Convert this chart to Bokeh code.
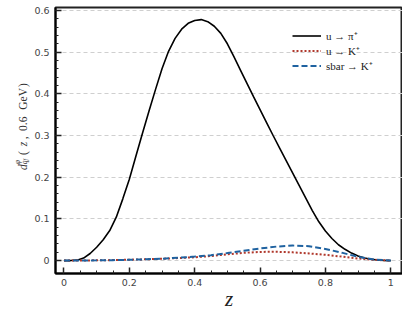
import math
from bokeh.plotting import figure
from bokeh.layouts import row
from bokeh.models import (FixedTicker, Range1d, Legend, LegendItem, Label)
from bokeh.embed import file_html
from bokeh.resources import INLINE

# ---- data ----
z_pi = [0.00, 0.02, 0.04, 0.06, 0.08, 0.10, 0.12, 0.14, 0.16, 0.18,
        0.20, 0.22, 0.24, 0.26, 0.28, 0.30, 0.32, 0.34, 0.36, 0.38,
        0.40, 0.42, 0.44, 0.46, 0.48, 0.50, 0.52, 0.54, 0.56, 0.58,
        0.60, 0.62, 0.64, 0.66, 0.68, 0.70, 0.72, 0.74, 0.76, 0.78,
        0.80, 0.82, 0.84, 0.86, 0.88, 0.90, 0.92, 0.94, 0.96, 0.98, 1.00]
d_u_pi = [0.0, 0.0, 0.001, 0.006, 0.017, 0.032, 0.050, 0.072, 0.104, 0.148,
          0.195, 0.250, 0.305, 0.358, 0.410, 0.460, 0.502, 0.533, 0.555, 0.569,
          0.576, 0.578, 0.573, 0.562, 0.545, 0.520, 0.489, 0.457, 0.425, 0.393,
          0.362, 0.331, 0.300, 0.270, 0.240, 0.210, 0.180, 0.150, 0.120, 0.093,
          0.071, 0.053, 0.038, 0.027, 0.018, 0.011, 0.006, 0.003, 0.0012, 0.0003, 0.0]

z_k = [0.00, 0.05, 0.10, 0.15, 0.20, 0.25, 0.30, 0.35, 0.40, 0.45, 0.50,
       0.55, 0.60, 0.65, 0.70, 0.75, 0.80, 0.85, 0.90, 0.95, 1.00]
d_u_k = [0.0, 0.0002, 0.0006, 0.0012, 0.002, 0.003, 0.0043, 0.006, 0.008, 0.011, 0.015,
         0.0185, 0.0208, 0.021, 0.0198, 0.0172, 0.0137, 0.0095, 0.005, 0.0018, 0.0]
d_sbar_k = [0.0, 0.0002, 0.0005, 0.001, 0.0018, 0.003, 0.0045, 0.0068, 0.0096, 0.013, 0.018,
            0.0235, 0.029, 0.0335, 0.036, 0.0345, 0.028, 0.019, 0.009, 0.0025, 0.0]

legend_labels = ["u \u2192 \u03c0\u207a", "u \u2192 K\u207a", "sbar \u2192 K\u207a"]

x_ticks = [0, 0.2, 0.4, 0.6, 0.8, 1]
x_tick_labels = ["0", "0.2", "0.4", "0.6", "0.8", "1"]
x_minor = [i * 0.05 for i in range(21)]
y_ticks = [0, 0.1, 0.2, 0.3, 0.4, 0.5, 0.6]
y_tick_labels = ["0", "0.1", "0.2", "0.3", "0.4", "0.5", "0.6"]
y_minor = [i * 0.02 for i in range(31)]

H = 320
LW = 31          # width of the strip holding the y-axis title
MW = 402 - LW    # width of the main plot

# ---- main figure ----
p = figure(width=MW, height=H, output_backend="svg", toolbar_location=None,
           x_range=Range1d(-0.026, 1.036), y_range=Range1d(-0.031, 0.607),
           min_border_left=55 - LW, min_border_right=0, min_border_top=7, min_border_bottom=47)
p.background_fill_color = "white"
p.border_fill_color = "white"
p.outline_line_color = "#222222"
p.outline_line_width = 2

r1 = p.line(z_pi, d_u_pi, line_color="black", line_width=1.6)
r2 = p.line(z_k, d_u_k, line_color="#b0382c", line_width=2, line_dash="2 2")
r3 = p.line(z_k, d_sbar_k, line_color="#1f62a0", line_width=2, line_dash="6 3")

for ax, ticks, minor, labels in ((p.xaxis[0], x_ticks, x_minor, x_tick_labels),
                                 (p.yaxis[0], y_ticks, y_minor, y_tick_labels)):
    ax.ticker = FixedTicker(ticks=ticks, minor_ticks=minor)
    ax.major_label_overrides = {t: l for t, l in zip(ticks, labels)}
    ax.axis_line_color = "black"
    ax.axis_line_width = 2
    ax.major_tick_in = 6
    ax.major_tick_out = 0
    ax.minor_tick_in = 3
    ax.minor_tick_out = 0
    ax.major_tick_line_color = "#222222"
    ax.minor_tick_line_color = "#222222"
    ax.major_tick_line_width = 1.5
    ax.minor_tick_line_width = 1
    ax.major_label_text_font = "DejaVu Sans"
    ax.major_label_text_font_size = "9.5px"
    ax.major_label_text_color = "#444444"

p.yaxis[0].major_label_standoff = 6
p.xaxis[0].major_label_standoff = 5

p.xaxis[0].axis_label = "z"
p.xaxis[0].axis_label_text_font = "Liberation Serif"
p.xaxis[0].axis_label_text_font_style = "italic"
p.xaxis[0].axis_label_text_font_size = "21px"
p.xaxis[0].axis_label_text_color = "#222222"
p.xaxis[0].axis_label_standoff = -2

p.xgrid.visible = False
p.ygrid.grid_line_color = "#cfcfcf"
p.ygrid.grid_line_dash = "4 3"
p.ygrid.grid_line_width = 1

legend = Legend(items=[LegendItem(label=legend_labels[0], renderers=[r1]),
                       LegendItem(label=legend_labels[1], renderers=[r2]),
                       LegendItem(label=legend_labels[2], renderers=[r3])],
                location=(237, 200))
legend.background_fill_alpha = 0
legend.border_line_alpha = 0
legend.padding = 0
legend.margin = 0
legend.spacing = 0
legend.glyph_width = 29
legend.glyph_height = 15
legend.label_height = 15
legend.label_standoff = 5
legend.label_text_font = "Liberation Serif"
legend.label_text_font_size = "11px"
legend.label_text_color = "#222222"
p.add_layout(legend)

# ---- strip with the rotated y-axis title d^phi_{q_f}(z, 0.6 GeV) ----
t = figure(width=LW, height=H, output_backend="svg", toolbar_location=None,
           x_range=Range1d(0, LW), y_range=Range1d(0, H),
           x_axis_location=None, y_axis_location=None,
           min_border_left=0, min_border_right=0, min_border_top=0, min_border_bottom=0)
t.outline_line_color = None
t.xgrid.visible = False
t.ygrid.visible = False
t.background_fill_color = "white"
t.border_fill_color = "white"

serif = "Liberation Serif"
col = "#333333"
# (text, baseline x, page y where the text starts, size, style)
pieces = [
    ("d", 22.5, 195.5, "11.5px", "italic"),
    ("\u03c6", 17.0, 188.5, "7.5px", "italic"),
    ("q", 24.0, 188.5, "7.5px", "italic"),
    ("f", 25.5, 184.0, "5.5px", "italic"),
    ("(", 22.5, 177.5, "11.5px", "normal"),
    ("z", 22.5, 167.0, "11.5px", "italic"),
    (",", 22.5, 158.5, "11.5px", "normal"),
    ("0.6", 22.5, 148.5, "11.5px", "normal"),
    ("GeV", 22.5, 123.0, "11.5px", "normal"),
    (")", 22.5, 95.5, "11.5px", "normal"),
]
for txt, bx, py, fs, st in pieces:
    t.add_layout(Label(x=bx, y=H - py, text=txt,
                       angle=math.pi / 2, text_align="left", text_baseline="alphabetic",
                       text_font=serif, text_font_size=fs, text_font_style=st,
                       text_color=col))

layout = row(t, p, spacing=0)
open("out.html", "w").write(file_html(layout, INLINE))
